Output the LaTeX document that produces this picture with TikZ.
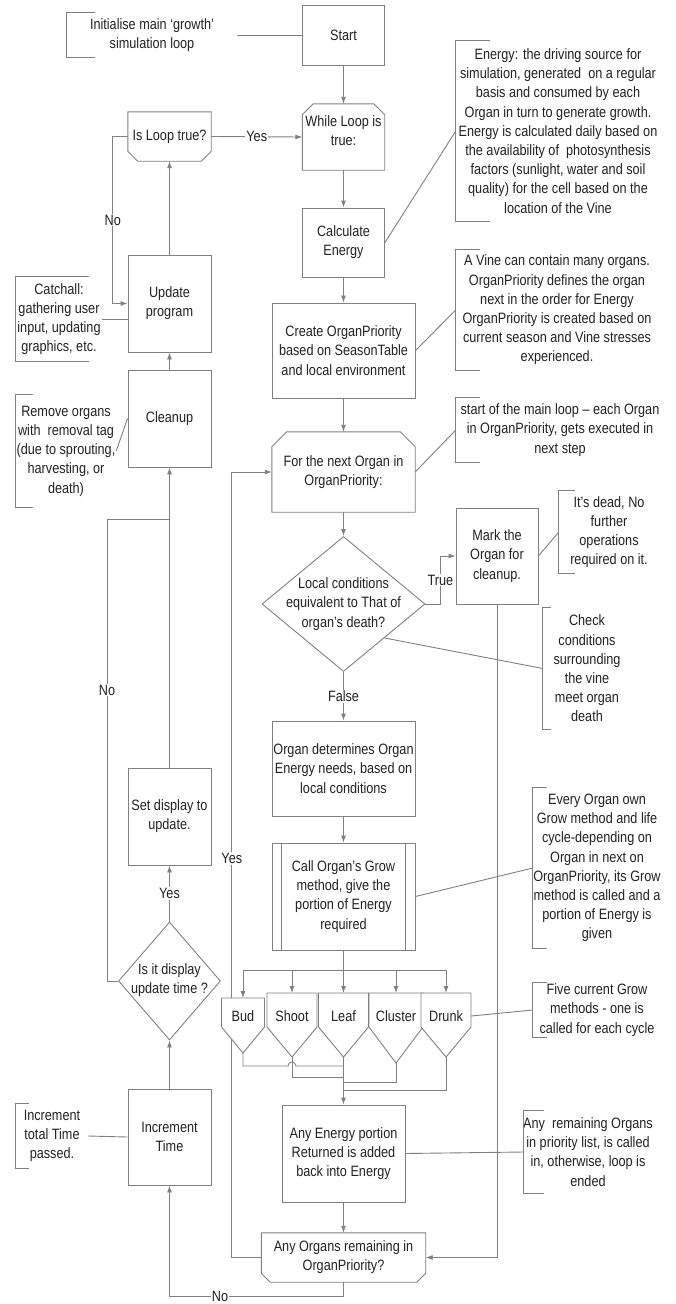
\documentclass[tikz,border=0pt]{standalone}
\usepackage{fontspec}
\setmainfont[FakeStretch=0.845]{Liberation Sans}
\usetikzlibrary{shapes.geometric, calc, arrows.meta}

\definecolor{linegray}{HTML}{808080}
\definecolor{textdark}{HTML}{222222}

\begin{document}
\begin{tikzpicture}[x=1pt, y=-1pt,
    every node/.style={font=\fontsize{15pt}{19.2pt}\selectfont, text=textdark},
    line/.style={draw=linegray, line width=0.9pt},
    arrow/.style={line, -{Latex[length=7pt, width=5pt]}},
    box/.style={line, rectangle, align=center, inner sep=0pt},
    plain/.style={rectangle, align=center, inner sep=0pt},
    decision/.style={line, diamond, inner sep=0pt},
    note/.style={rectangle, align=center, inner sep=0pt},
    lbl/.style={fill=white, inner sep=1pt}]

    % Page
    \fill[white] (0,0) rectangle (675,1304);
    \useasboundingbox (0,0) rectangle (675,1304);

    % Main column
    \node[box, minimum width=82pt, minimum height=60pt] (start) at (343.5,35) {Start};
    \node[plain, minimum width=82pt, minimum height=66pt, text depth=13pt] (while) at (343.5,137) {While Loop is\\true:};
    \node[box, minimum width=82pt, minimum height=69pt] (calc) at (343.5,242.5) {Calculate\\Energy};
    \node[box, minimum width=143pt, minimum height=95pt] (create) at (343.5,350.5) {Create OrganPriority\\based on SeasonTable\\and local environment};
    \node[plain, minimum width=143pt, minimum height=80pt] (next) at (343.5,472) {For the next Organ in\\OrganPriority:};
    \node[decision, minimum width=163pt, minimum height=135pt] (death) at (343.5,604) {};
    \node[plain] (deathtext) at (343.5,604) {Local conditions\\equivalent to That of\\organ’s death?};
    \node[box, minimum width=82pt, minimum height=96pt] (mark) at (497,556) {Mark the\\Organ for\\cleanup.};
    \node[box, minimum width=143pt, minimum height=95pt] (organdet) at (343.5,768.5) {Organ determines Organ\\Energy needs, based on\\local conditions};
    \node[box, minimum width=143pt, minimum height=107pt] (call) at (343.5,896.5) {Call Organ’s Grow\\method, give the\\portion of Energy\\required};
    \node[box, minimum width=123pt, minimum height=97pt] (energyback) at (343.5,1153.5) {Any Energy portion\\Returned is added\\back into Energy};
    \node[plain, minimum width=164pt, minimum height=49pt] (remaining) at (343.5,1257.5) {Any Organs remaining in\\OrganPriority?};

    % Left column
    \node[plain, minimum width=83pt, minimum height=49pt] (isloop) at (169.5,136.5) {Is Loop true?};
    \node[box, minimum width=83pt, minimum height=97pt] (update) at (169.5,303.5) {Update\\program};
    \node[box, minimum width=83pt, minimum height=97pt] (cleanup) at (169.5,418.5) {Cleanup};
    \node[box, minimum width=83pt, minimum height=97pt] (setdisplay) at (169.5,816.5) {Set display to\\update.};
    \node[decision, minimum width=102pt, minimum height=118pt] (displaytime) at (169.5,981) {};
    \node[plain] (displaytext) at (169.5,980) {Is it display\\update time ?};
    \node[box, minimum width=83pt, minimum height=96pt] (inctime) at (169.5,1137) {Increment\\Time};

    % Loop limit outlines
    \foreach \n/\c in {while/11, next/15}
        \draw[line] ([yshift=-\c pt]\n.north west) -- ([xshift=\c pt]\n.north west) -- ([xshift=-\c pt]\n.north east)
            -- ([yshift=-\c pt]\n.north east) -- (\n.south east) -- (\n.south west) -- cycle;
    \foreach \n/\c in {isloop/10, remaining/9}
        \draw[line] (\n.north west) -- (\n.north east) -- ([yshift=\c pt]\n.south east) -- ([xshift=-\c pt]\n.south east)
            -- ([xshift=\c pt]\n.south west) -- ([yshift=\c pt]\n.south west) -- cycle;
    \draw[line] ([xshift=10pt]call.north west) -- ([xshift=10pt]call.south west);
    \draw[line] ([xshift=-10pt]call.north east) -- ([xshift=-10pt]call.south east);

    % Annotations
    \node[note, minimum width=170pt, minimum height=44pt] (initnote) at (152,35) {Initialise main ‘growth’\\simulation loop};
    \node[note, minimum width=204pt, minimum height=180pt] (energynote) at (558,131) {Energy: the driving source for\\simulation, generated\ \ on a regular\\basis and consumed by each\\Organ in turn to generate growth.\\Energy is calculated daily based on\\the availability of\ \ photosynthesis\\factors (sunlight, water and soil\\quality) for the cell based on the\\location of the Vine};
    \node[note, minimum width=202pt, minimum height=120pt] (vinenote) at (557,310) {A Vine can contain many organs.\\OrganPriority defines the organ\\next in the order for Energy\\OrganPriority is created based on\\current season and Vine stresses\\experienced.};
    \node[note, minimum width=208pt, minimum height=64pt] (loopnote) at (560,430) {start of the main loop – each Organ\\in OrganPriority, gets executed in\\next step};
    \node[note, minimum width=100pt, minimum height=82pt] (deadnote) at (609,532) {It’s dead, No\\further\\operations\\required on it.};
    \node[note, minimum width=88pt, minimum height=121pt] (checknote) at (587,668.5) {Check\\conditions\\surrounding\\the vine\\meet organ\\death};
    \node[note, minimum width=128pt, minimum height=160pt] (grownote) at (597,868) {Every Organ own\\Grow method and life\\cycle-depending on\\Organ in next on\\OrganPriority, its Grow\\method is called and a\\portion of Energy is\\given};
    \node[note, minimum width=128pt, minimum height=54pt] (fivenote) at (597,1010) {Five current Grow\\methods - one is\\called for each cycle};
    \node[note, minimum width=128pt, minimum height=82pt] (remainnote) at (588,1152) {Any\ \ remaining Organs\\in priority list, is called\\in, otherwise, loop is\\ended};
    \node[note, minimum width=86pt, minimum height=84pt] (catchnote) at (59,319) {Catchall:\\gathering user\\input, updating\\graphics, etc.};
    \node[note, minimum width=100pt, minimum height=112pt] (removenote) at (66,451) {Remove organs\\with\ \ removal tag\\(due to sprouting,\\harvesting, or\\death)};
    \node[note, minimum width=72pt, minimum height=64pt] (incnote) at (52,1136) {Increment\\total Time\\passed.};

    \foreach \n/\t in {initnote/28, energynote/34, vinenote/24, loopnote/24, deadnote/16, checknote/8,
                       grownote/14, fivenote/14, remainnote/21, catchnote/73, removenote/17, incnote/13}
        \draw[line] ([xshift=\t pt]\n.north west) -- (\n.north west) -- (\n.south west) -- ([xshift=\t pt]\n.south west);

    % Main flow
    \draw[arrow] (start.south) -- (while.north);
    \draw[arrow] (while.south) -- (calc.north);
    \draw[arrow] (calc.south) -- (create.north);
    \draw[arrow] (create.south) -- (next.north);
    \draw[arrow] (next.south) -- (death.north);
    \draw[arrow] (death.east) -- ++(15,0) |- node[pos=0.25, lbl] {True} (mark.west);
    \draw[arrow] (death.south) -- node[lbl] {False} (organdet.north);
    \draw[arrow] (organdet.south) -- (call.north);
    \draw[arrow] (remaining.west) -| node[pos=0.754, lbl] {Yes} ($(next.west)+(-40,0)$) -- (next.west);

    % Grow methods
    \draw[line, fill=white] (221.5,998) -- (264.5,998) -- (264.5,1027) -- (243,1053) -- (221.5,1027) -- cycle;
    \draw[line, fill=white] (267,993) -- (317,993) -- (317,1027) -- (292,1057) -- (267,1027) -- cycle;
    \draw[line, fill=white] (318.5,993) -- (368.5,993) -- (368.5,1027) -- (343.5,1057) -- (318.5,1027) -- cycle;
    \draw[line, fill=white] (369,993) -- (423,993) -- (423,1027) -- (396,1063) -- (369,1027) -- cycle;
    \draw[line, fill=white] (421,993) -- (471,993) -- (471,1027) -- (446,1057) -- (421,1027) -- cycle;
    \node[plain, minimum width=43pt] (bud) at (243,1016) {Bud};
    \node[plain, minimum width=50pt] (shoot) at (292,1016) {Shoot};
    \node[plain, minimum width=50pt] (leaf) at (343.5,1016) {Leaf};
    \node[plain, minimum width=54pt] (cluster) at (396,1016) {Cluster};
    \node[plain, minimum width=50pt] (drunk) at (446,1016) {Drunk};
    \coordinate (budtop) at (243,998);
    \coordinate (shoottop) at (292,993);
    \coordinate (leaftop) at (343.5,993);
    \coordinate (clustertop) at (396,993);
    \coordinate (drunktop) at (446,993);
    \coordinate (budtip) at (243,1053);
    \coordinate (shoottip) at (292,1057);
    \coordinate (leaftip) at (343.5,1057);
    \coordinate (clustertip) at (396,1063);
    \coordinate (drunktip) at (446,1057);
    \coordinate (bus) at (343.5,970);
    \draw[line] (call.south) -- (bus);
    \foreach \n in {bud, shoot, leaf, cluster, drunk}
        \draw[arrow] (bus) -| (\n top);
    \draw[line] (budtip) |- ($(shoottip)+(-4,9)$) arc[start angle=180, end angle=360, radius=4] -- ($(leaftip)+(0,9)$);
    \draw[line] (shoottip) |- ($(leaftip)+(0,20)$);
    \draw[line] (clustertip) |- ($(leaftip)+(0,25)$);
    \draw[line] (drunktip) |- ($(leaftip)+(0,33)$);
    \draw[arrow] (leaftip) -- (energyback.north);
    \draw[arrow] (energyback.south) -- (remaining.north);
    \draw[arrow] (mark.south) |- (remaining.east);
    \draw[arrow] (remaining.south) -- ++(0,14) -| node[pos=0.355, lbl] {No} (inctime.south);

    % Left flow
    \draw[arrow] (inctime.north) -- (displaytime.south);
    \draw[arrow] (displaytime.north) -- node[lbl] {Yes} (setdisplay.south);
    \draw[line] (displaytime.west) -- ++(-11,0) |- node[pos=0.315, lbl] {No} ($(cleanup.south)+(0,52)$);
    \draw[arrow] (setdisplay.north) -- (cleanup.south);
    \draw[arrow] (cleanup.north) -- (update.south);
    \draw[arrow] (update.north) -- (isloop.south);
    \draw[arrow] (isloop.east) -- node[lbl] {Yes} (while.west);
    \draw[arrow] (isloop.west) -- ++(-15,0) |- node[pos=0.25, lbl] {No} (update.west);

    % Annotation links
    \draw[line] (initnote.east) -- (start.west);
    \draw[line] (energynote.west) -- (calc.east);
    \draw[line] (vinenote.west) -- (create.east);
    \draw[line] (loopnote.west) -- (next.east);
    \draw[line] (deadnote.west) -- (mark.east);
    \draw[line] (checknote.west) -- (death.south east);
    \draw[line] (grownote.west) -- (call.east);
    \draw[line] (fivenote.west) -- (drunk.east);
    \draw[line] (remainnote.west) -- (energyback.east);
    \draw[line] (catchnote.east) -- (catchnote.east -| update.west);
    \draw[line] (removenote.east) -- (cleanup.west);
    \draw[line] (incnote.east) -- (inctime.west);

\end{tikzpicture}
\end{document}
